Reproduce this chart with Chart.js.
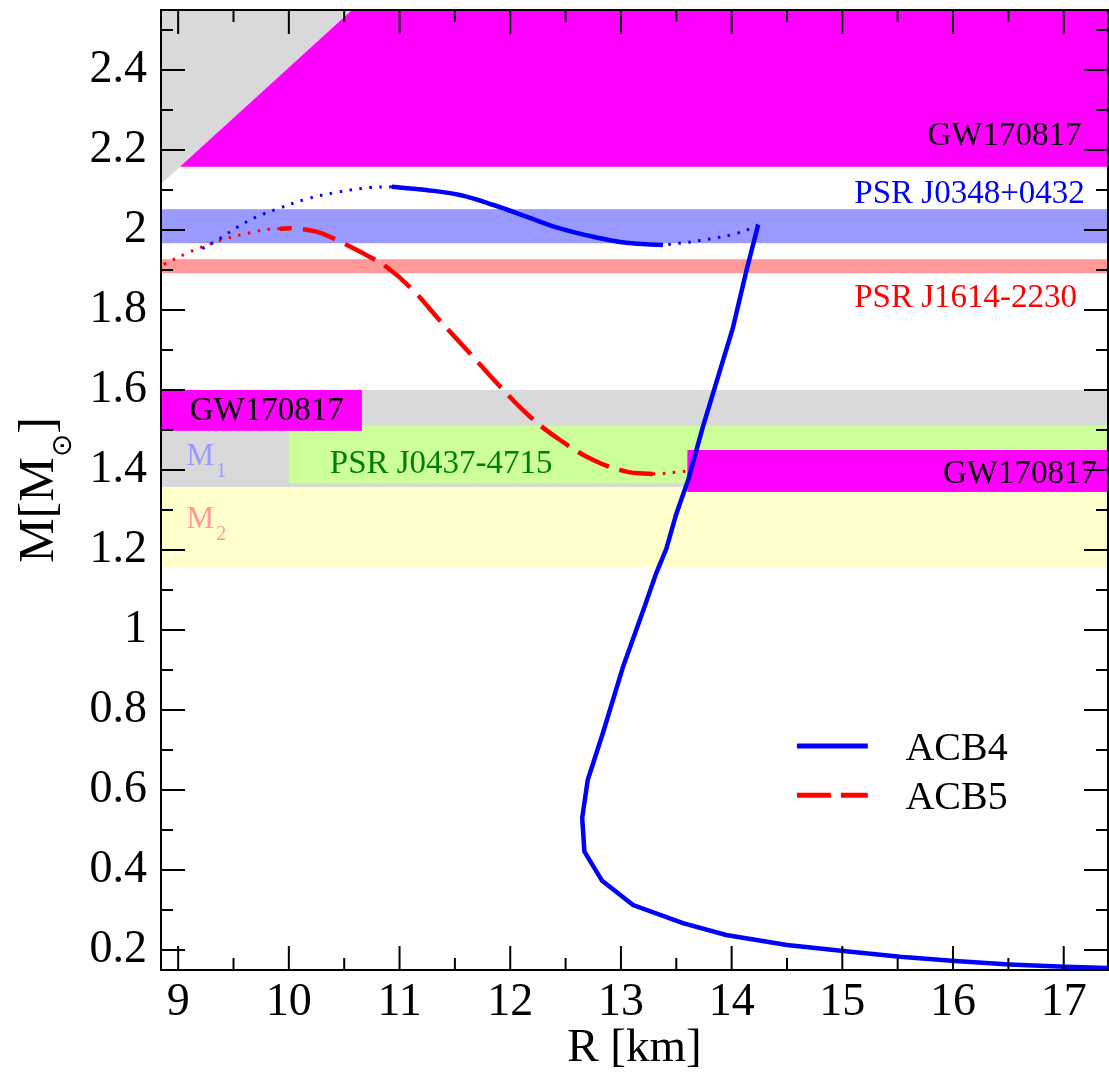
<!DOCTYPE html>
<html>
<head>
<meta charset="utf-8">
<script src="https://cdn.jsdelivr.net/npm/chart.js@4.4.1/dist/chart.umd.min.js"></script>
<style>
  html, body { margin: 0; padding: 0; background: #ffffff; }
  #wrap { width: 1109px; height: 1077px; }
</style>
</head>
<body>
<div id="wrap"><canvas id="c" width="1109" height="1077"></canvas></div>
<script>
// ---------------- data ----------------
const xTickValues = [9, 10, 11, 12, 13, 14, 15, 16, 17];
const xTickLabels = ['9', '10', '11', '12', '13', '14', '15', '16', '17'];
const yTickValues = [0.2, 0.4, 0.6, 0.8, 1.0, 1.2, 1.4, 1.6, 1.8, 2.0, 2.2, 2.4];
const yTickLabels = ['0.2', '0.4', '0.6', '0.8', '1', '1.2', '1.4', '1.6', '1.8', '2', '2.2', '2.4'];

// ACB4 : hadronic (stable) branch, from low mass upward
const acb4HadronR = [17.40, 17.01, 16.51, 16.02, 15.52, 15.01, 14.50, 13.95, 13.56, 13.11, 12.83, 12.67, 12.65, 12.70, 12.84, 13.02, 13.19, 13.32, 13.41, 13.50, 13.61, 13.74, 13.86, 14.01, 14.135, 14.24];
const acb4HadronM = [0.155, 0.158, 0.164, 0.1725, 0.183, 0.1975, 0.2125, 0.2375, 0.267, 0.3125, 0.373, 0.446, 0.53, 0.625, 0.745, 0.909, 1.04, 1.143, 1.203, 1.29, 1.377, 1.508, 1.617, 1.754, 1.90, 2.013];
// ACB4 : unstable connection (dotted)
const acb4UnstableR = [14.24, 14.13, 13.95, 13.65, 13.38];
const acb4UnstableM = [2.013, 1.999, 1.985, 1.971, 1.9625];
// ACB4 : third-family (twin) branch
const acb4TwinR = [13.38, 13.05, 12.75, 12.45, 12.15, 11.85, 11.545, 11.24, 10.93];
const acb4TwinM = [1.9625, 1.968, 1.983, 2.004, 2.033, 2.0625, 2.0875, 2.10, 2.108];
// ACB4 : beyond maximum mass (dotted)
const acb4CollapseR = [10.93, 10.73, 10.43, 10.16, 9.89, 9.71, 9.54, 9.38, 9.21];
const acb4CollapseM = [2.108, 2.106, 2.094, 2.0775, 2.052, 2.033, 2.008, 1.979, 1.952];

// ACB5 : unstable connection (dotted)
const acb5UnstableR = [13.58, 13.45, 13.29];
const acb5UnstableM = [1.397, 1.393, 1.39];
// ACB5 : twin branch (dashed)
const acb5TwinR = [13.29, 13.05, 12.75, 12.45, 12.18, 11.91, 11.635, 11.36, 11.12, 10.88, 10.64, 10.43, 10.25, 10.04, 9.92];
const acb5TwinM = [1.39, 1.396, 1.425, 1.475, 1.533, 1.608, 1.692, 1.775, 1.85, 1.908, 1.946, 1.975, 1.996, 2.004, 2.003];
// ACB5 : beyond maximum mass (dotted)
const acb5CollapseR = [9.92, 9.83, 9.65, 9.44, 9.26, 9.08, 8.87];
const acb5CollapseM = [2.003, 2.0025, 1.993, 1.979, 1.9625, 1.942, 1.914];

// Constraint bands (null R = extends to the axis edge)
const bandNames = ['GW170817 M1', 'GW170817 M2', 'PSR J0437-4715', 'GW170817 R1.6', 'GW170817 R1.4', 'PSR J0348+0432', 'PSR J1614-2230'];
const bandRMin = [null, null, 10.0, null, 13.6, null, null];
const bandRMax = [null, null, null, 10.66, null, null, null];
const bandMMin = [1.357, 1.157, 1.367, 1.498, 1.345, 1.967, 1.892];
const bandMMax = [1.600, 1.357, 1.511, 1.600, 1.450, 2.052, 1.927];

// Causality line (two points) and GW170817 maximum-mass bound
const causalR = [8.845, 10.57];
const causalM = [2.115, 2.55];
const gwMaxMassLower = [2.158];

// ---------------- styles ----------------
const bandColors = ['#d9d9d9', '#ffffcc', '#ccff99', '#ff00ff', '#ff00ff', '#9999ff', '#ff9999'];
const SERIF = '"Liberation Serif", "Times New Roman", serif';

function pts(R, M) { return R.map((r, i) => ({ x: r, y: M[i] })); }

const solid4 = { borderColor: '#0000ff', borderWidth: 4.5, borderDash: [] };
const dot4 = { borderColor: '#0000ff', borderWidth: 3, borderDash: [2.5, 7.5] };
const dash5 = { borderColor: '#ff0000', borderWidth: 4.5, borderDash: [34, 11] };
const dot5 = { borderColor: '#ff0000', borderWidth: 3, borderDash: [2.5, 7.5] };

const datasets = [
  Object.assign({ label: 'ACB4', data: pts(acb4HadronR, acb4HadronM), tension: 0 }, solid4),
  Object.assign({ label: 'ACB4 unstable', data: pts(acb4UnstableR, acb4UnstableM), tension: 0.3 }, dot4),
  Object.assign({ label: 'ACB4 twin', data: pts(acb4TwinR, acb4TwinM), tension: 0.4 }, solid4),
  Object.assign({ label: 'ACB4 collapse', data: pts(acb4CollapseR, acb4CollapseM), tension: 0.4 }, dot4),
  Object.assign({ label: 'ACB5 unstable', data: pts(acb5UnstableR, acb5UnstableM), tension: 0.3 }, dot5),
  Object.assign({ label: 'ACB5', data: pts(acb5TwinR, acb5TwinM), tension: 0.4 }, dash5),
  Object.assign({ label: 'ACB5 collapse', data: pts(acb5CollapseR, acb5CollapseM), tension: 0.4 }, dot5)
].map(d => Object.assign(d, { showLine: true, pointRadius: 0, fill: false, borderCapStyle: 'butt', clip: 0 }));

// ---------------- decorations plugin ----------------
const decor = {
  id: 'decor',
  beforeDatasetsDraw(chart) {
    const { ctx, chartArea: a, scales: { x, y } } = chart;
    ctx.save();
    ctx.beginPath();
    ctx.rect(a.left, a.top, a.right - a.left, a.bottom - a.top);
    ctx.clip();
    for (let i = 0; i < bandMMin.length; i++) {
      const x0 = bandRMin[i] == null ? a.left : x.getPixelForValue(bandRMin[i]);
      const x1 = bandRMax[i] == null ? a.right : x.getPixelForValue(bandRMax[i]);
      const y0 = y.getPixelForValue(bandMMax[i]);
      const y1 = y.getPixelForValue(bandMMin[i]);
      ctx.fillStyle = bandColors[i];
      ctx.fillRect(x0, y0, x1 - x0, y1 - y0);
    }
    // causality line region (grey) and GW170817 upper bound region (magenta)
    const px0 = x.getPixelForValue(causalR[0]), py0 = y.getPixelForValue(causalM[0]);
    const px1 = x.getPixelForValue(causalR[1]), py1 = y.getPixelForValue(causalM[1]);
    const slope = (py1 - py0) / (px1 - px0);
    const xAt = yy => px0 + (yy - py0) / slope;
    const yAt = xx => py0 + (xx - px0) * slope;
    ctx.fillStyle = '#d9d9d9';
    ctx.beginPath();
    ctx.moveTo(a.left, a.top - 2);
    ctx.lineTo(xAt(a.top - 2), a.top - 2);
    ctx.lineTo(a.left, yAt(a.left));
    ctx.closePath();
    ctx.fill();
    const yg = y.getPixelForValue(gwMaxMassLower[0]);
    ctx.fillStyle = '#ff00ff';
    ctx.beginPath();
    ctx.moveTo(xAt(yg), yg);
    ctx.lineTo(xAt(a.top - 2), a.top - 2);
    ctx.lineTo(a.right, a.top - 2);
    ctx.lineTo(a.right, yg);
    ctx.closePath();
    ctx.fill();
    ctx.restore();
  },
  afterDatasetsDraw(chart) {
    const { ctx, scales: { x, y } } = chart;
    ctx.save();
    const label = (text, r, m, color, align, size) => {
      ctx.font = size + 'px ' + SERIF;
      ctx.fillStyle = color;
      ctx.textAlign = align;
      ctx.textBaseline = 'alphabetic';
      ctx.fillText(text, x.getPixelForValue(r), y.getPixelForValue(m));
    };
    label('GW170817', 17.16, 2.2125, '#000000', 'right', 33);
    label('PSR J0348+0432', 17.19, 2.0675, '#0000ff', 'right', 33);
    label('PSR J1614-2230', 17.12, 1.808, '#ff0000', 'right', 33);
    label('GW170817', 9.105, 1.525, '#000000', 'left', 33);
    label('PSR J0437-4715', 10.37, 1.392, '#008000', 'left', 33);
    label('GW170817', 17.30, 1.3675, '#000000', 'right', 33);
    // M1 / M2 with subscripts
    const sub = (main, s, r, m, color) => {
      const px = x.getPixelForValue(r), py = y.getPixelForValue(m);
      ctx.fillStyle = color; ctx.textAlign = 'left'; ctx.textBaseline = 'alphabetic';
      ctx.font = '31px ' + SERIF;
      ctx.fillText(main, px, py);
      const w = ctx.measureText(main).width;
      ctx.font = '20px ' + SERIF;
      ctx.fillText(s, px + w + 2, py + 12);
    };
    sub('M', '1', 9.076, 1.4125, '#9999ff');
    sub('M', '2', 9.076, 1.255, '#ff9999');

    // legend
    const lx0 = x.getPixelForValue(14.59), lx1 = x.getPixelForValue(15.23), tx = x.getPixelForValue(15.57);
    const entries = [['ACB4', 0.71, '#0000ff', []], ['ACB5', 0.587, '#ff0000', [34, 10]]];
    entries.forEach(([name, m, col, dash]) => {
      const ly = y.getPixelForValue(m);
      ctx.strokeStyle = col; ctx.lineWidth = 5; ctx.lineCap = 'butt';
      ctx.setLineDash(dash);
      ctx.beginPath(); ctx.moveTo(lx0, ly); ctx.lineTo(lx1, ly); ctx.stroke();
      ctx.setLineDash([]);
      ctx.font = '40px ' + SERIF; ctx.fillStyle = '#000'; ctx.textAlign = 'left'; ctx.textBaseline = 'alphabetic';
      ctx.fillText(name, tx, ly + 13.5);
    });
    ctx.restore();
  },
  afterDraw(chart) {
    const { ctx, chartArea: a, scales: { x, y } } = chart;
    ctx.save();
    ctx.strokeStyle = '#000'; ctx.lineWidth = 2; ctx.setLineDash([]);
    ctx.strokeRect(a.left, a.top, a.right - a.left, a.bottom - a.top);
    const MAJ = 24, MIN = 12;
    ctx.beginPath();
    const xv = [];
    xTickValues.forEach(v => { xv.push([v, MAJ]); xv.push([v + 0.5, MIN]); xv.push([v - 0.5, MIN]); });
    xv.forEach(([v, L]) => {
      const p = x.getPixelForValue(v);
      if (p < a.left + 1 || p > a.right - 1) return;
      ctx.moveTo(p, a.bottom); ctx.lineTo(p, a.bottom - L);
      ctx.moveTo(p, a.top); ctx.lineTo(p, a.top + L);
    });
    const yv = [];
    yTickValues.forEach(v => { yv.push([v, MAJ]); yv.push([v + 0.1, MIN]); yv.push([v - 0.1, MIN]); });
    yv.forEach(([v, L]) => {
      const p = y.getPixelForValue(v);
      if (p < a.top + 1 || p > a.bottom - 1) return;
      ctx.moveTo(a.left, p); ctx.lineTo(a.left + L, p);
      ctx.moveTo(a.right, p); ctx.lineTo(a.right - L, p);
    });
    ctx.stroke();

    // y-axis title M[M_sun]
    const cx = a.left - 108, cy = (a.top + a.bottom) / 2;
    ctx.translate(cx, cy);
    ctx.rotate(-Math.PI / 2);
    ctx.fillStyle = '#000'; ctx.textAlign = 'left'; ctx.textBaseline = 'alphabetic';
    ctx.font = '50px ' + SERIF; const w1 = ctx.measureText('M[M').width; const w3 = ctx.measureText(']').width;
    ctx.font = '28px "DejaVu Sans"'; const w2 = ctx.measureText('\u2299').width;
    const x0 = -(w1 + w2 + w3) / 2;
    ctx.font = '50px ' + SERIF; ctx.fillText('M[M', x0, 0);
    ctx.font = '28px "DejaVu Sans"'; ctx.fillText('\u2299', x0 + w1, 18);
    ctx.font = '50px ' + SERIF; ctx.fillText(']', x0 + w1 + w2, 0);
    ctx.restore();
  }
};

const chart = new Chart(document.getElementById('c'), {
  type: 'scatter',
  data: { datasets },
  options: {
    responsive: false,
    animation: false,
    devicePixelRatio: 1,
    layout: { padding: { top: 10, right: 1, left: 0, bottom: 0 } },
    plugins: { legend: { display: false }, tooltip: { enabled: false } },
    scales: {
      x: {
        type: 'linear', min: 8.845, max: 17.4,
        grid: { display: false, drawTicks: false },
        border: { display: false },
        afterBuildTicks: s => { s.ticks = xTickValues.map(v => ({ value: v })); },
        afterFit: s => { s.height = 107; s.paddingLeft = 0; s.paddingRight = 0; },
        ticks: { padding: 5, color: '#000', font: { family: SERIF, size: 46 }, maxRotation: 0, callback: (v, i) => xTickLabels[i] },
        title: { display: true, text: 'R [km]', color: '#000', font: { family: SERIF, size: 47 }, padding: { top: 0, bottom: 0 } }
      },
      y: {
        type: 'linear', min: 0.15, max: 2.55,
        grid: { display: false, drawTicks: false },
        border: { display: false },
        afterBuildTicks: s => { s.ticks = yTickValues.map(v => ({ value: v })); },
        afterFit: s => { s.width = 161; s.paddingTop = 0; s.paddingBottom = 0; },
        ticks: { padding: 14, color: '#000', font: { family: SERIF, size: 46 }, callback: (v, i) => yTickLabels[i] }
      }
    }
  },
  plugins: [decor]
});
</script>
</body>
</html>
